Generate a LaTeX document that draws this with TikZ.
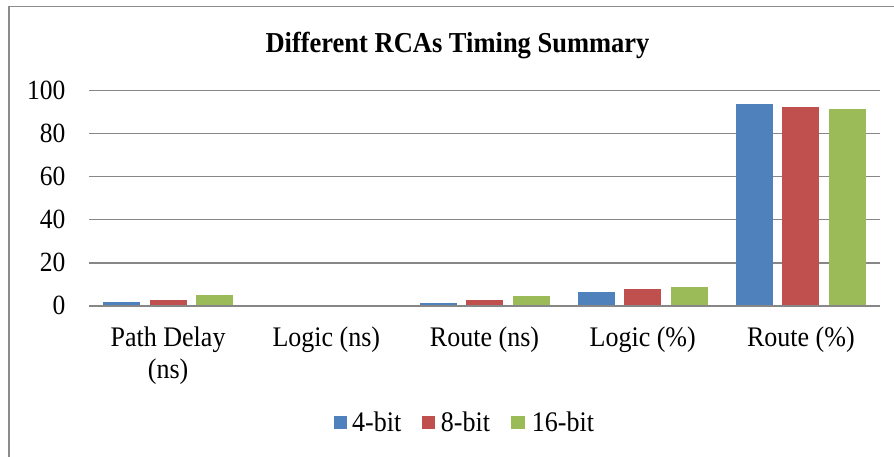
\documentclass[tikz,border=0pt]{standalone}
\usepackage{graphicx}
\usepackage{fontspec}
\setmainfont{Liberation Serif}
\definecolor{serA}{HTML}{4F81BD}
\definecolor{serB}{HTML}{C0504D}
\definecolor{serC}{HTML}{9BBB59}
\definecolor{gridcol}{HTML}{878787}
\definecolor{framecol}{HTML}{8C8C8C}
\newcommand{\tallt}[1]{\scalebox{1}[1.09]{#1}}
\begin{document}
\begin{tikzpicture}[x=1pt,y=-1pt,
  gridline/.style={draw=gridcol,line width=1.7pt},
  ticklab/.style={inner sep=0pt,font=\fontsize{25.5}{30}\selectfont},
  catlab/.style={inner sep=0pt,anchor=north,align=center,font=\fontsize{26}{31.5}\selectfont},
  leglab/.style={inner sep=0pt,anchor=base west,font=\fontsize{26}{30}\selectfont},
  titlelab/.style={inner sep=0pt,anchor=base,font=\fontsize{26.5}{30}\selectfont\bfseries},
  legsq/.style={inner sep=0pt,minimum size=13.4pt,anchor=north west}]
\useasboundingbox (0,0) rectangle (894,456);
\fill[white] (0,0) rectangle (894,456);
% chart frame (cropped at right and bottom)
\draw[framecol,line width=1.6pt] (8.7,460) -- (8.7,6.5) -- (900,6.5);
% title
\node[titlelab] (title) at (457.5,52.3) {\tallt{Different RCAs Timing Summary}};
% gridlines and tick labels
\foreach \v in {0,20,40,60,80,100}{
  \draw[gridline] (89,{305.7-2.152*\v}) -- (879.5,{305.7-2.152*\v});
  \node[ticklab,anchor=base east] (tick\v) at (65.5,{305.7-2.152*\v+9.2}) {\tallt{\v}};
}
% bars
\foreach \c/\a/\b/\d in {168.1/1.8/2.7/5.0, 326.3/0/0/0, 484.5/1.4/2.5/4.5, 642.7/6.3/7.8/8.5, 800.9/93.7/92.3/91.5}{
  \fill[serA] ({\c-46.5-18.5},305.7) rectangle ({\c-46.5+18.5},{305.7-2.152*\a});
  \fill[serB] ({\c-18.5},305.7) rectangle ({\c+18.5},{305.7-2.152*\b});
  \fill[serC] ({\c+46.5-18.5},305.7) rectangle ({\c+46.5+18.5},{305.7-2.152*\d});
}
% axis line on top of bars
\draw[gridline] (89,305.7) -- (879.5,305.7);
% category labels
\node[catlab] (cat1) at (168.1,327) {\tallt{Path Delay}\\\tallt{(ns)}};
\node[catlab] (cat2) at (326.3,327) {\tallt{Logic (ns)}};
\node[catlab] (cat3) at (484.5,327) {\tallt{Route (ns)}};
\node[catlab] (cat4) at (642.7,327) {\tallt{Logic (\%)}};
\node[catlab] (cat5) at (800.9,327) {\tallt{Route (\%)}};
% legend
\node[legsq,fill=serA] (sqA) at (333.3,415.8) {};
\node[leglab] (legA) at (352,431.7) {\tallt{4-bit}};
\node[legsq,fill=serB] (sqB) at (421.7,415.8) {};
\node[leglab] (legB) at (440.7,431.7) {\tallt{8-bit}};
\node[legsq,fill=serC] (sqC) at (511,415.8) {};
\node[leglab] (legC) at (531.7,431.7) {\tallt{16-bit}};
\end{tikzpicture}
\end{document}
